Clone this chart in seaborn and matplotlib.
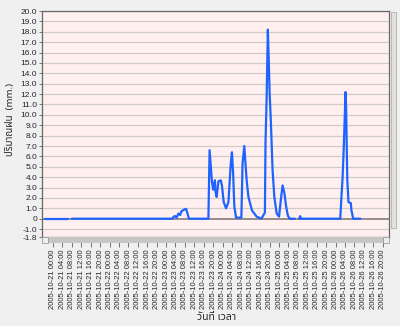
import matplotlib
matplotlib.use("Agg")
import matplotlib.pyplot as plt
import matplotlib.dates as mdates
from matplotlib.patches import Rectangle
import seaborn as sns
import pandas as pd
import numpy as np

# ---------------- data ----------------
times = [
    "2005-10-20 20:30", "2005-10-21 06:30",
    "2005-10-21 08:00", "2005-10-23 02:45", "2005-10-23 03:00", "2005-10-23 03:45",
    "2005-10-23 04:30", "2005-10-23 05:15", "2005-10-23 06:00", "2005-10-23 06:30",
    "2005-10-23 07:30", "2005-10-23 08:30", "2005-10-23 09:00", "2005-10-23 09:45",
    "2005-10-23 18:00", "2005-10-23 18:30", "2005-10-23 19:30", "2005-10-23 20:00",
    "2005-10-23 20:45", "2005-10-23 21:00", "2005-10-23 21:30", "2005-10-23 22:15",
    "2005-10-23 23:15", "2005-10-23 23:45", "2005-10-24 00:30", "2005-10-24 01:30",
    "2005-10-24 02:30", "2005-10-24 03:30", "2005-10-24 04:00", "2005-10-24 04:30",
    "2005-10-24 05:00", "2005-10-24 05:45", "2005-10-24 08:00", "2005-10-24 08:30",
    "2005-10-24 09:15", "2005-10-24 09:45", "2005-10-24 10:15", "2005-10-24 11:00",
    "2005-10-24 12:30", "2005-10-24 14:30", "2005-10-24 16:30", "2005-10-24 18:00",
    "2005-10-24 18:15", "2005-10-24 18:45", "2005-10-24 19:15", "2005-10-24 19:45",
    "2005-10-24 20:00", "2005-10-24 20:30", "2005-10-24 21:15", "2005-10-24 22:00",
    "2005-10-24 23:00", "2005-10-25 00:00", "2005-10-25 00:45", "2005-10-25 01:30",
    "2005-10-25 02:15", "2005-10-25 03:00", "2005-10-25 03:45", "2005-10-25 04:30",
    "2005-10-25 06:45",
    "2005-10-25 08:30", "2005-10-25 09:00", "2005-10-25 09:15", "2005-10-26 02:00",
    "2005-10-26 02:30", "2005-10-26 03:00", "2005-10-26 03:30", "2005-10-26 04:00",
    "2005-10-26 04:15", "2005-10-26 04:30", "2005-10-26 04:45", "2005-10-26 05:00",
    "2005-10-26 05:30", "2005-10-26 06:30", "2005-10-26 06:45", "2005-10-26 07:30",
    "2005-10-26 10:30",
]
rain_mm = [
    0, 0,
    0, 0, 0.13, 0.26,
    0.1, 0.5, 0.35, 0.7,
    0.85, 0.95, 0.6, 0,
    0, 6.6, 3.6, 2.8,
    3.7, 2.6, 2.1, 3.6,
    3.7, 3.2, 1.6, 1.0,
    1.6, 5.3, 6.4, 4.4,
    1.2, 0.1, 0.1, 5.3,
    7.0, 5.3, 3.7, 2.1,
    0.8, 0.2, 0, 0.6,
    7.3, 11.8, 18.2, 14.3,
    12.1, 9.5, 4.7, 2.1,
    0.5, 0.2, 1.8, 3.2,
    2.5, 1.2, 0.3, 0,
    0,
    0, 0.25, 0, 0,
    2.1, 4.0, 6.9, 10.5,
    12.2, 10.6, 6.9, 3.7,
    1.6, 1.5, 0.8, 0,
    0,
]
segment = [1] * 2 + [2] * 57 + [3] * 17

tick_start = "2005-10-21 00:00"
tick_end = "2005-10-26 20:00"
y_ticks = [20, 19, 18, 17, 16, 15, 14, 13, 12, 11, 10, 9, 8, 7, 6, 5, 4, 3, 2, 1, 0, -1.0, -1.8]
y_labels = ["20.0", "19.0", "18.0", "17.0", "16.0", "15.0", "14.0", "13.0", "12.0", "11.0",
            "10.0", "9.0", "8.0", "7.0", "6.0", "5.0", "4.0", "3.0", "2.0", "1.0", "0",
            "-1.0", "-1.8"]
y_label = "ปริมาณฝน  (mm.)"
x_label = "วันที่ เวลา"

df = pd.DataFrame({"time": pd.to_datetime(times), "rain": rain_mm, "segment": segment})

# ---------------- figure ----------------
sns.set_style("white")
thai = ["Noto Sans Thai", "Loma", "Garuda", "Tlwg Typo", "DejaVu Sans"]
plt.rcParams["font.family"] = ["Liberation Sans", "DejaVu Sans"]

W, H = 400, 326
fig = plt.figure(figsize=(W / 100, H / 100), dpi=100, facecolor="#f0f0f0")
L, R, T, B = 42, 389, 11, 237.4
ax = fig.add_axes([L / W, 1 - B / H, (R - L) / W, (B - T) / H])
ax.set_facecolor("#fff0ef")

sns.lineplot(data=df, x="time", y="rain", units="segment", estimator=None,
             color="#1e62ff", linewidth=1.6, ax=ax, legend=False, zorder=3)

base = pd.Timestamp(tick_start)
ax.set_xlim(base - pd.Timedelta(hours=4.67), base + pd.Timedelta(hours=142.7))
ax.set_ylim(-1.8, 20)

for v in y_ticks[:-1]:
    if v == 0:
        ax.axhline(v, color="#8c8484", lw=1.3, zorder=2)
    else:
        ax.axhline(v, color="#d0cbcb", lw=0.9, zorder=1)

ax.set_yticks(y_ticks)
ax.set_yticklabels(y_labels, fontsize=6)
ticks = pd.date_range(tick_start, tick_end, freq="4h")
ax.set_xticks(ticks)
ax.xaxis.set_major_formatter(mdates.DateFormatter("%Y-%m-%d %H:%M"))
ax.tick_params(axis="x", labelrotation=90, labelsize=5.5, length=7, width=0.6,
               color="#606060", pad=1.5, bottom=True)
ax.tick_params(axis="y", length=2.5, width=0.6, color="#606060", pad=1, left=True)
for lab in ax.get_xticklabels():
    lab.set_rotation(90)

for s in ax.spines.values():
    s.set_color("#686868")
    s.set_linewidth(0.9)

ax.set_xlabel("")
ax.set_ylabel("")
fig.text(11 / W, 1 - 120 / H, y_label, rotation=90, ha="center", va="center",
         fontsize=7, fontweight="bold", family=thai)
fig.text(217 / W, 1 - 318 / H, x_label, ha="center", va="center",
         fontsize=7.5, fontweight="bold", family=thai)

# scrollbars (window chrome)
def px_rect(x0, y0, x1, y1, fc, ec="none", z=5):
    r = Rectangle((x0 / W, 1 - y1 / H), (x1 - x0) / W, (y1 - y0) / H,
                  transform=fig.transFigure, facecolor=fc, edgecolor=ec, lw=0.5, zorder=z)
    fig.add_artist(r)

px_rect(42, 237, 389, 243, "#c8c6c2")
px_rect(42, 237, 48, 243, "#eeeeec", "#909090", 6)
px_rect(383, 237, 389, 243, "#eeeeec", "#909090", 6)
px_rect(391, 12, 395.5, 228, "#e2e0dc", "#a8a6a2", 6)

fig.savefig("out.png", dpi=100, facecolor=fig.get_facecolor())
